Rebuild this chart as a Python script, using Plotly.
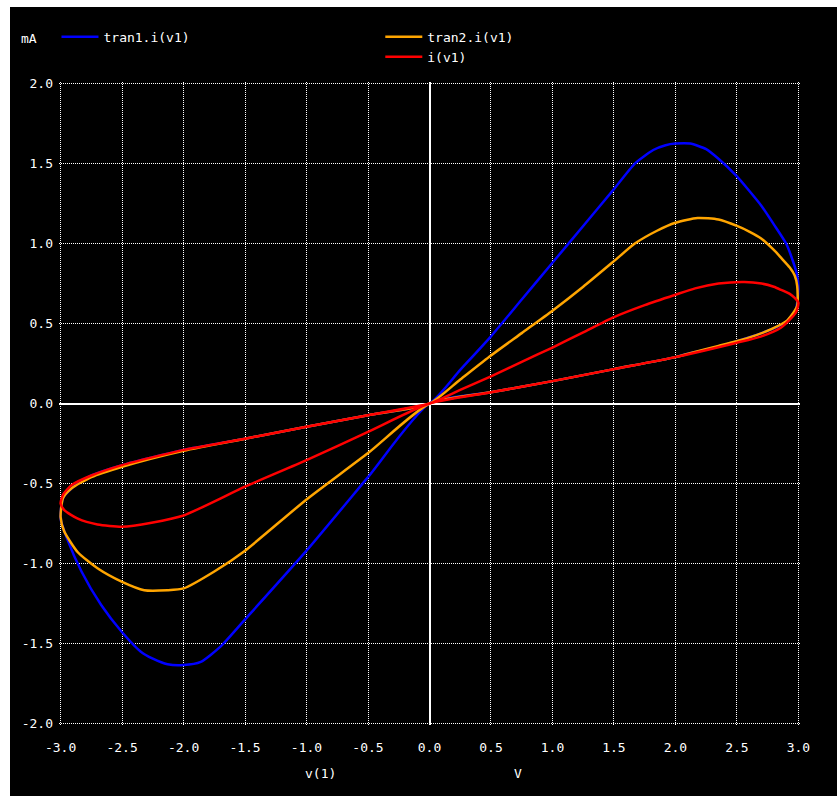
import plotly.graph_objects as go

# ---- data ----
tran1_v = [0, 0.25, 0.5, 0.75, 1.0, 1.25, 1.5, 1.67, 1.82, 1.92, 2.0, 2.12, 2.25, 2.35, 2.5, 2.6, 2.7, 2.8, 2.9, 2.96, 2.99, 3.0,
           2.98, 2.91, 2.83, 2.70, 2.5, 2.32, 2.12, 2.0, 1.5, 1.0, 0.5, 0,
           -0.5, -1.0, -1.5, -1.70, -1.86, -2.0, -2.13, -2.25, -2.35, -2.5, -2.67, -2.83, -2.95, -3.0,
           -2.98, -2.88, -2.75, -2.5, -2.0, -1.5, -1.0, -0.5, 0]
tran1_i = [0, 0.21, 0.42, 0.65, 0.88, 1.11, 1.34, 1.50, 1.585, 1.615, 1.625, 1.625, 1.59, 1.53, 1.42, 1.33, 1.235, 1.12, 1.0, 0.88, 0.80, 0.715,
           0.59, 0.517, 0.48, 0.44, 0.39, 0.35, 0.315, 0.29, 0.215, 0.14, 0.07, 0,
           -0.46, -0.92, -1.35, -1.52, -1.615, -1.635, -1.63, -1.595, -1.55, -1.43, -1.26, -1.05, -0.84, -0.72,
           -0.59, -0.51, -0.45, -0.385, -0.29, -0.22, -0.146, -0.073, 0]

tran2_v = [0, 0.25, 0.5, 0.75, 1.0, 1.25, 1.5, 1.67, 1.85, 2.0, 2.18, 2.35, 2.5, 2.6, 2.7, 2.8, 2.86, 2.93, 2.97, 2.99,
           2.99, 2.91, 2.78, 2.59, 2.35, 2.12, 2.0, 1.5, 1.0, 0.5, 0,
           -0.5, -1.0, -1.5, -1.75, -2.0, -2.13, -2.32, -2.5, -2.7, -2.86, -2.97, -3.0,
           -2.98, -2.91, -2.75, -2.5, -2.0, -1.5, -1.0, -0.5, 0]
tran2_i = [0, 0.15, 0.30, 0.44, 0.58, 0.73, 0.89, 1.0, 1.08, 1.13, 1.16, 1.15, 1.11, 1.075, 1.03, 0.96, 0.91, 0.85, 0.80, 0.735,
           0.61, 0.52, 0.465, 0.41, 0.36, 0.315, 0.29, 0.215, 0.14, 0.07, 0,
           -0.31, -0.60, -0.92, -1.05, -1.156, -1.167, -1.167, -1.115, -1.03, -0.93, -0.80, -0.71,
           -0.59, -0.53, -0.46, -0.395, -0.295, -0.22, -0.146, -0.073, 0]

iv1_v = [0, 0.25, 0.5, 0.75, 1.0, 1.25, 1.5, 1.75, 2.0, 2.16, 2.35, 2.56, 2.7, 2.8, 2.86, 2.93, 2.97, 3.0,
         2.98, 2.86, 2.70, 2.5, 2.0, 1.5, 1.0, 0.5, 0,
         -0.5, -1.0, -1.5, -2.0, -2.26, -2.5, -2.7, -2.86, -2.97, -3.0,
         -2.98, -2.91, -2.75, -2.5, -2.0, -1.5, -1.0, -0.5, 0]
iv1_i = [0, 0.085, 0.17, 0.26, 0.35, 0.445, 0.54, 0.615, 0.68, 0.72, 0.75, 0.76, 0.75, 0.73, 0.71, 0.685, 0.66, 0.63,
         0.57, 0.475, 0.42, 0.38, 0.29, 0.215, 0.14, 0.07, 0,
         -0.177, -0.354, -0.52, -0.70, -0.745, -0.77, -0.756, -0.72, -0.667, -0.625,
         -0.57, -0.51, -0.45, -0.385, -0.29, -0.22, -0.146, -0.073, 0]

x_tick_vals = [-3.0, -2.5, -2.0, -1.5, -1.0, -0.5, 0.0, 0.5, 1.0, 1.5, 2.0, 2.5, 3.0]
x_tick_text = ["-3.0", "-2.5", "-2.0", "-1.5", "-1.0", "-0.5", "0.0", "0.5", "1.0", "1.5", "2.0", "2.5", "3.0"]
y_tick_vals = [-2.0, -1.5, -1.0, -0.5, 0.0, 0.5, 1.0, 1.5, 2.0]
y_tick_text = ["-2.0", "-1.5", "-1.0", "-0.5", "0.0", "0.5", "1.0", "1.5", "2.0"]

FONT = "DejaVu Sans Mono"

fig = go.Figure()
fig.add_trace(go.Scatter(x=tran1_v, y=tran1_i, mode="lines", name="tran1.i(v1)", showlegend=True,
                         line=dict(color="#0000ff", width=2.5, shape="spline", smoothing=0.6), legend="legend"))
fig.add_trace(go.Scatter(x=tran2_v, y=tran2_i, mode="lines", name="tran2.i(v1)", showlegend=True,
                         line=dict(color="#ffa500", width=2.5, shape="spline", smoothing=0.6), legend="legend2"))
fig.add_trace(go.Scatter(x=iv1_v, y=iv1_i, mode="lines", name="i(v1)", showlegend=True,
                         line=dict(color="#ff0000", width=2.5, shape="spline", smoothing=0.6), legend="legend2"))

axis_common = dict(
    showgrid=True, gridcolor="#ffffff", gridwidth=1, griddash="1px,1px",
    zeroline=True, zerolinecolor="#ffffff", zerolinewidth=2,
    showline=False, ticks="", tickfont=dict(family=FONT, size=13, color="#ffffff"),
    fixedrange=True,
)

fig.update_layout(
    width=827, height=789,
    margin=dict(l=45, r=37, t=75, b=71),
    showlegend=True,
    paper_bgcolor="#000000", plot_bgcolor="#000000",
    font=dict(family=FONT, size=13, color="#ffffff"),
    xaxis=dict(range=[-3.013, 3.013], tickvals=x_tick_vals, ticktext=x_tick_text, ticklabelstandoff=13, **axis_common),
    yaxis=dict(range=[-2.01, 2.01], tickvals=y_tick_vals, ticktext=y_tick_text, ticklabelstandoff=5, **axis_common),
    legend=dict(x=-0.0034, y=1.0935, xanchor="left", yanchor="top", bgcolor="rgba(0,0,0,0)",
                font=dict(family=FONT, size=13, color="#ffffff"), itemwidth=37),
    legend2=dict(x=0.4336, y=1.0935, xanchor="left", yanchor="top", bgcolor="rgba(0,0,0,0)",
                 font=dict(family=FONT, size=13, color="#ffffff"), itemwidth=37),
    annotations=[
        dict(text="mA", xref="paper", yref="paper", x=-0.0403, y=1.0684, xanchor="center", yanchor="middle",
             showarrow=False, font=dict(family=FONT, size=13, color="#ffffff")),
        dict(text="v(1)", xref="paper", yref="paper", x=0.353, y=-0.0762, xanchor="center", yanchor="middle",
             showarrow=False, font=dict(family=FONT, size=13, color="#ffffff")),
        dict(text="V", xref="paper", yref="paper", x=0.6195, y=-0.0762, xanchor="center", yanchor="middle",
             showarrow=False, font=dict(family=FONT, size=13, color="#ffffff")),
    ],
    hovermode=False,
)

fig.write_html("out.html",
               post_script="document.body.style.margin='7px 0 0 10px';document.body.style.overflow='hidden';")
